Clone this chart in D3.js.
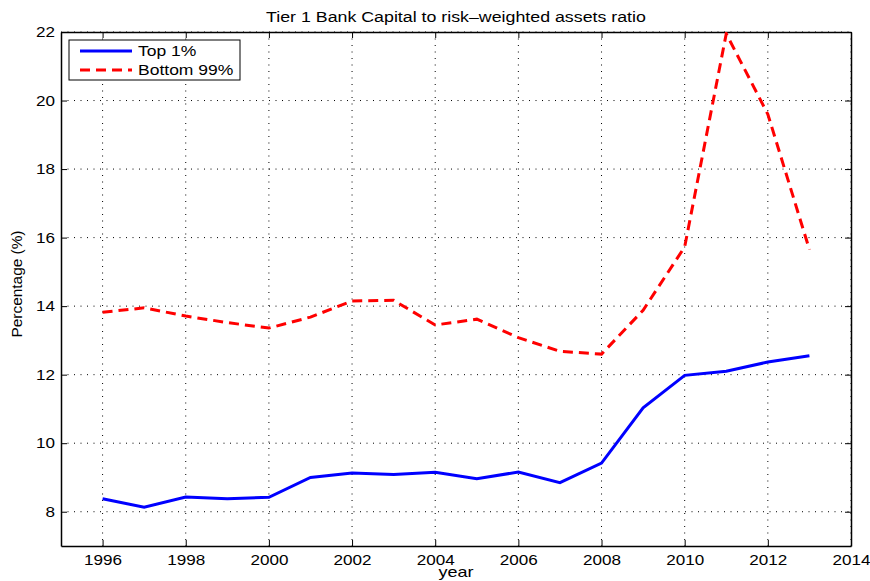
<!DOCTYPE html>
<html>
<head>
<meta charset="utf-8">
<script src="https://cdn.jsdelivr.net/npm/d3@7"></script>
<style>
  body { margin: 0; background: #fff; }
  text { font-family: "Liberation Sans", Arial, sans-serif; }
</style>
</head>
<body>
<div id="chart"></div>
<script>
// data
let years = [1996, 1997, 1998, 1999, 2000, 2001, 2002, 2003, 2004, 2005, 2006, 2007, 2008, 2009, 2010, 2011, 2012, 2013];
let top1 = [8.38, 8.13, 8.43, 8.38, 8.42, 9.0, 9.13, 9.09, 9.15, 8.96, 9.16, 8.85, 9.42, 11.03, 11.98, 12.1, 12.37, 12.55];
let bottom99 = [13.82, 13.95, 13.71, 13.52, 13.36, 13.68, 14.15, 14.17, 13.45, 13.62, 13.08, 12.68, 12.6, 13.88, 15.73, 21.95, 19.6, 15.65];
let xTicks = [1996, 1998, 2000, 2002, 2004, 2006, 2008, 2010, 2012, 2014];
let yTicks = [8, 10, 12, 14, 16, 18, 20, 22];
let seriesNames = ["Top 1%", "Bottom 99%"];

let margin = {top: 32, right: 19, bottom: 35, left: 61},
    width = 870 - margin.left - margin.right,
    height = 581 - margin.top - margin.bottom;

// the original figure text is a bit wider than normal, stretch it
function stretch(sel, k) {
  sel.each(function() {
    let w = this.getComputedTextLength();
    d3.select(this).attr("textLength", w * k).attr("lengthAdjust", "spacingAndGlyphs");
  });
}

let svg = d3.select("#chart")
  .append("svg")
    .attr("width", 870)
    .attr("height", 581);

let g = svg.append("g")
    .attr("transform", "translate(" + margin.left + "," + margin.top + ")");

let x = d3.scaleLinear()
  .domain([1995, 2014])
  .range([0, width]);

let y = d3.scaleLinear()
  .domain([7, 22])
  .range([height, 0]);

// dotted grid
g.append("g")
  .selectAll("line")
  .data(xTicks)
  .join("line")
    .attr("x1", d => x(d)).attr("x2", d => x(d))
    .attr("y1", 0).attr("y2", height)
    .attr("stroke", "#000")
    .attr("stroke-width", 1)
    .attr("stroke-dasharray", "1,5.5");

g.append("g")
  .selectAll("line")
  .data(yTicks)
  .join("line")
    .attr("x1", 0).attr("x2", width)
    .attr("y1", d => y(d)).attr("y2", d => y(d))
    .attr("stroke", "#000")
    .attr("stroke-width", 1)
    .attr("stroke-dasharray", "1,5.5");

// axes, ticks pointing inward
g.append("g")
  .attr("transform", "translate(0," + height + ")")
  .call(d3.axisBottom(x).tickValues(xTicks).tickFormat(d3.format("d")).tickSizeInner(-6).tickSizeOuter(0).tickPadding(9));
g.append("g")
  .call(d3.axisLeft(y).tickValues(yTicks).tickSizeInner(-6).tickSizeOuter(0).tickPadding(6));
g.append("g")
  .call(d3.axisTop(x).tickValues(xTicks).tickFormat("").tickSizeInner(-6).tickSizeOuter(0));
g.append("g")
  .attr("transform", "translate(" + width + ",0)")
  .call(d3.axisRight(y).tickValues(yTicks).tickFormat("").tickSizeInner(-6).tickSizeOuter(0));

g.selectAll(".domain").attr("stroke", "#000").attr("stroke-width", 1.5);
g.selectAll(".tick line").attr("stroke", "#000");
g.selectAll(".tick text").attr("font-size", 14).attr("fill", "#000")
  .style("font-family", "'Liberation Sans', Arial, sans-serif")
  .call(stretch, 1.22);

// lines
let line = d3.line()
  .x((d, i) => x(years[i]))
  .y(d => y(d));

g.append("clipPath").attr("id", "clip")
  .append("rect").attr("x", 0).attr("y", 0).attr("width", width).attr("height", height);

g.append("path")
  .datum(bottom99)
  .attr("clip-path", "url(#clip)")
  .attr("fill", "none")
  .attr("stroke", "#ff0000")
  .attr("stroke-width", 3)
  .attr("stroke-dasharray", "10,6")
  .attr("d", line);

g.append("path")
  .datum(top1)
  .attr("fill", "none")
  .attr("stroke", "#0000ff")
  .attr("stroke-width", 3)
  .attr("d", line);

// legend
let legend = g.append("g").attr("transform", "translate(8,8)");
legend.append("rect")
  .attr("width", 171).attr("height", 40)
  .attr("fill", "#fff").attr("stroke", "#000").attr("stroke-width", 1);
let legendStyles = [
  {color: "#0000ff", dash: null},
  {color: "#ff0000", dash: "10,6"}
];
seriesNames.forEach(function(name, i) {
  let yy = 11 + i * 19;
  legend.append("line")
    .attr("x1", 11).attr("x2", 63)
    .attr("y1", yy).attr("y2", yy)
    .attr("stroke", legendStyles[i].color)
    .attr("stroke-width", 3)
    .attr("stroke-dasharray", legendStyles[i].dash);
  legend.append("text")
    .attr("x", 69).attr("y", yy + 5)
    .attr("font-size", 14)
    .text(name)
    .call(stretch, 1.25);
});

// title and axis labels
svg.append("text")
  .attr("x", margin.left + width / 2).attr("y", 22)
  .attr("text-anchor", "middle")
  .attr("font-size", 14)
  .text("Tier 1 Bank Capital to risk\u2013weighted assets ratio")
  .call(stretch, 1.27);

svg.append("text")
  .attr("x", margin.left + width / 2).attr("y", 577)
  .attr("text-anchor", "middle")
  .attr("font-size", 15)
  .text("year")
  .call(stretch, 1.2);

svg.append("text")
  .attr("transform", "translate(22,284) rotate(-90)")
  .attr("text-anchor", "middle")
  .attr("font-size", 14)
  .text("Percentage (%)")
  .call(stretch, 1.1);
</script>
</body>
</html>
